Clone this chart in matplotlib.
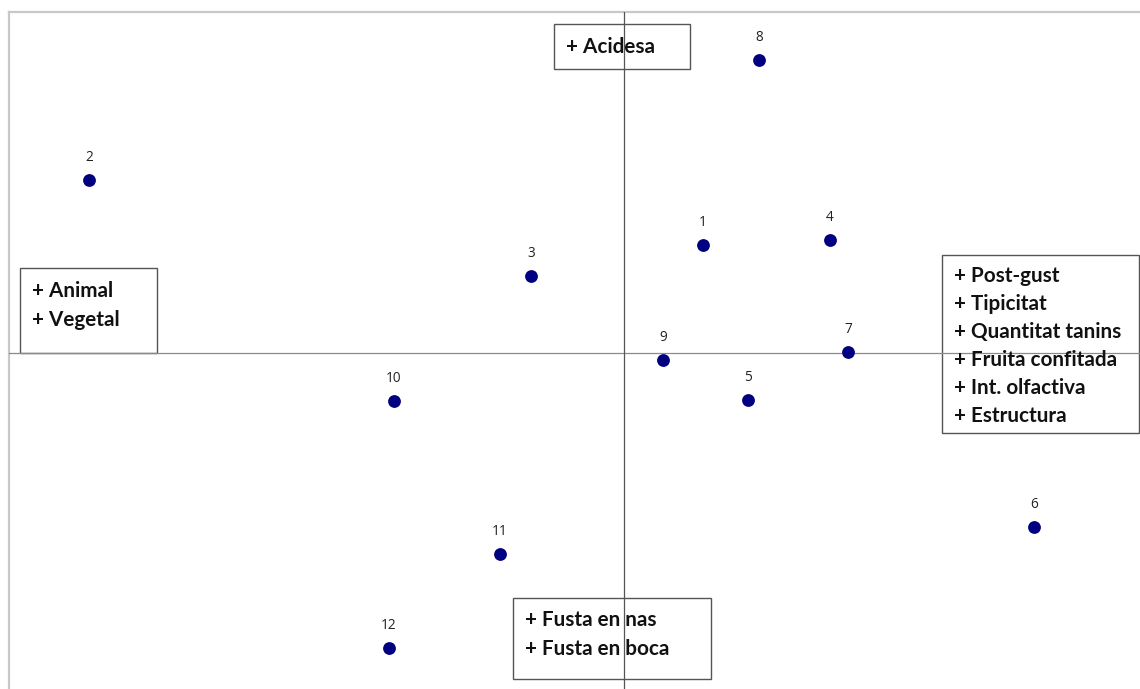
import matplotlib.pyplot as plt
from matplotlib.patches import Rectangle

# wine samples on the first two factorial axes
labels = ['1', '2', '3', '4', '5', '6', '7', '8', '9', '10', '11', '12']
f1 = [0.79, -5.35, -0.93, 2.06, 1.24, 4.10, 2.24, 1.35, 0.39, -2.30, -1.24, -2.35]
f2 = [1.08, 1.73, 0.77, 1.13, -0.47, -1.74, 0.01, 2.93, -0.07, -0.48, -2.01, -2.95]

# descriptor boxes
box_top = ['+ Acidesa']
box_left = ['+ Animal', '+ Vegetal']
box_right = ['+ Post-gust', '+ Tipicitat', '+ Quantitat tanins',
             '+ Fruita confitada', '+ Int. olfactiva', '+ Estructura']
box_bottom = ['+ Fusta en nas', '+ Fusta en boca']

W, H = 1140, 689
fig = plt.figure(figsize=(W / 100, H / 100), dpi=100)
ax = fig.add_axes([9 / W, 0, 1 - 9 / W, (H - 12) / H])

ax.scatter(f1, f2, s=85, color='#000080', zorder=5, linewidths=0)
for x, y, t in zip(f1, f2, labels):
    ax.annotate(t, (x, y), xytext=(0, 11), textcoords='offset points',
                ha='center', va='bottom', fontsize=9.8, color='#222222',
                family='Open Sans', zorder=6)

ax.set_xlim(-6.15, 5.16)
ax.set_ylim(-3.36, 3.41)
ax.axhline(0, color='#8a8a8a', lw=0.9, zorder=4)
ax.axvline(0, color='#555555', lw=0.9, zorder=4)
ax.set_xticks([])
ax.set_yticks([])
for s in ['right', 'bottom']:
    ax.spines[s].set_visible(False)
for s in ['top', 'left']:
    ax.spines[s].set_color('#c8c8c8')
    ax.spines[s].set_linewidth(1.6)


def px(x, y):
    return x / W, 1 - y / H


def draw_box(lines, l, t, r, b, x0, y0, step):
    x1, y1 = px(l, b)
    fig.add_artist(Rectangle((x1, y1), (r - l) / W, (b - t) / H,
                             transform=fig.transFigure, facecolor='white',
                             edgecolor='#555555', lw=1.0, zorder=2))
    for i, line in enumerate(lines):
        tx, ty = px(x0, y0 + i * step)
        fig.text(tx, ty, line, ha='left', va='center', fontsize=14.9,
                 fontweight='bold', family='Lato', color='#111111', zorder=3)


draw_box(box_top, 554, 24, 690, 69, 566, 47, 0)
draw_box(box_left, 20, 268, 157, 353, 32, 291, 29)
draw_box(box_right, 942, 255, 1139, 433, 954, 276, 28)
draw_box(box_bottom, 513, 598, 711, 679, 525, 620, 29)

# axis lines must stay above the boxes
ax.set_zorder(3)
ax.patch.set_visible(False)

fig.savefig('out.png', dpi=100)
